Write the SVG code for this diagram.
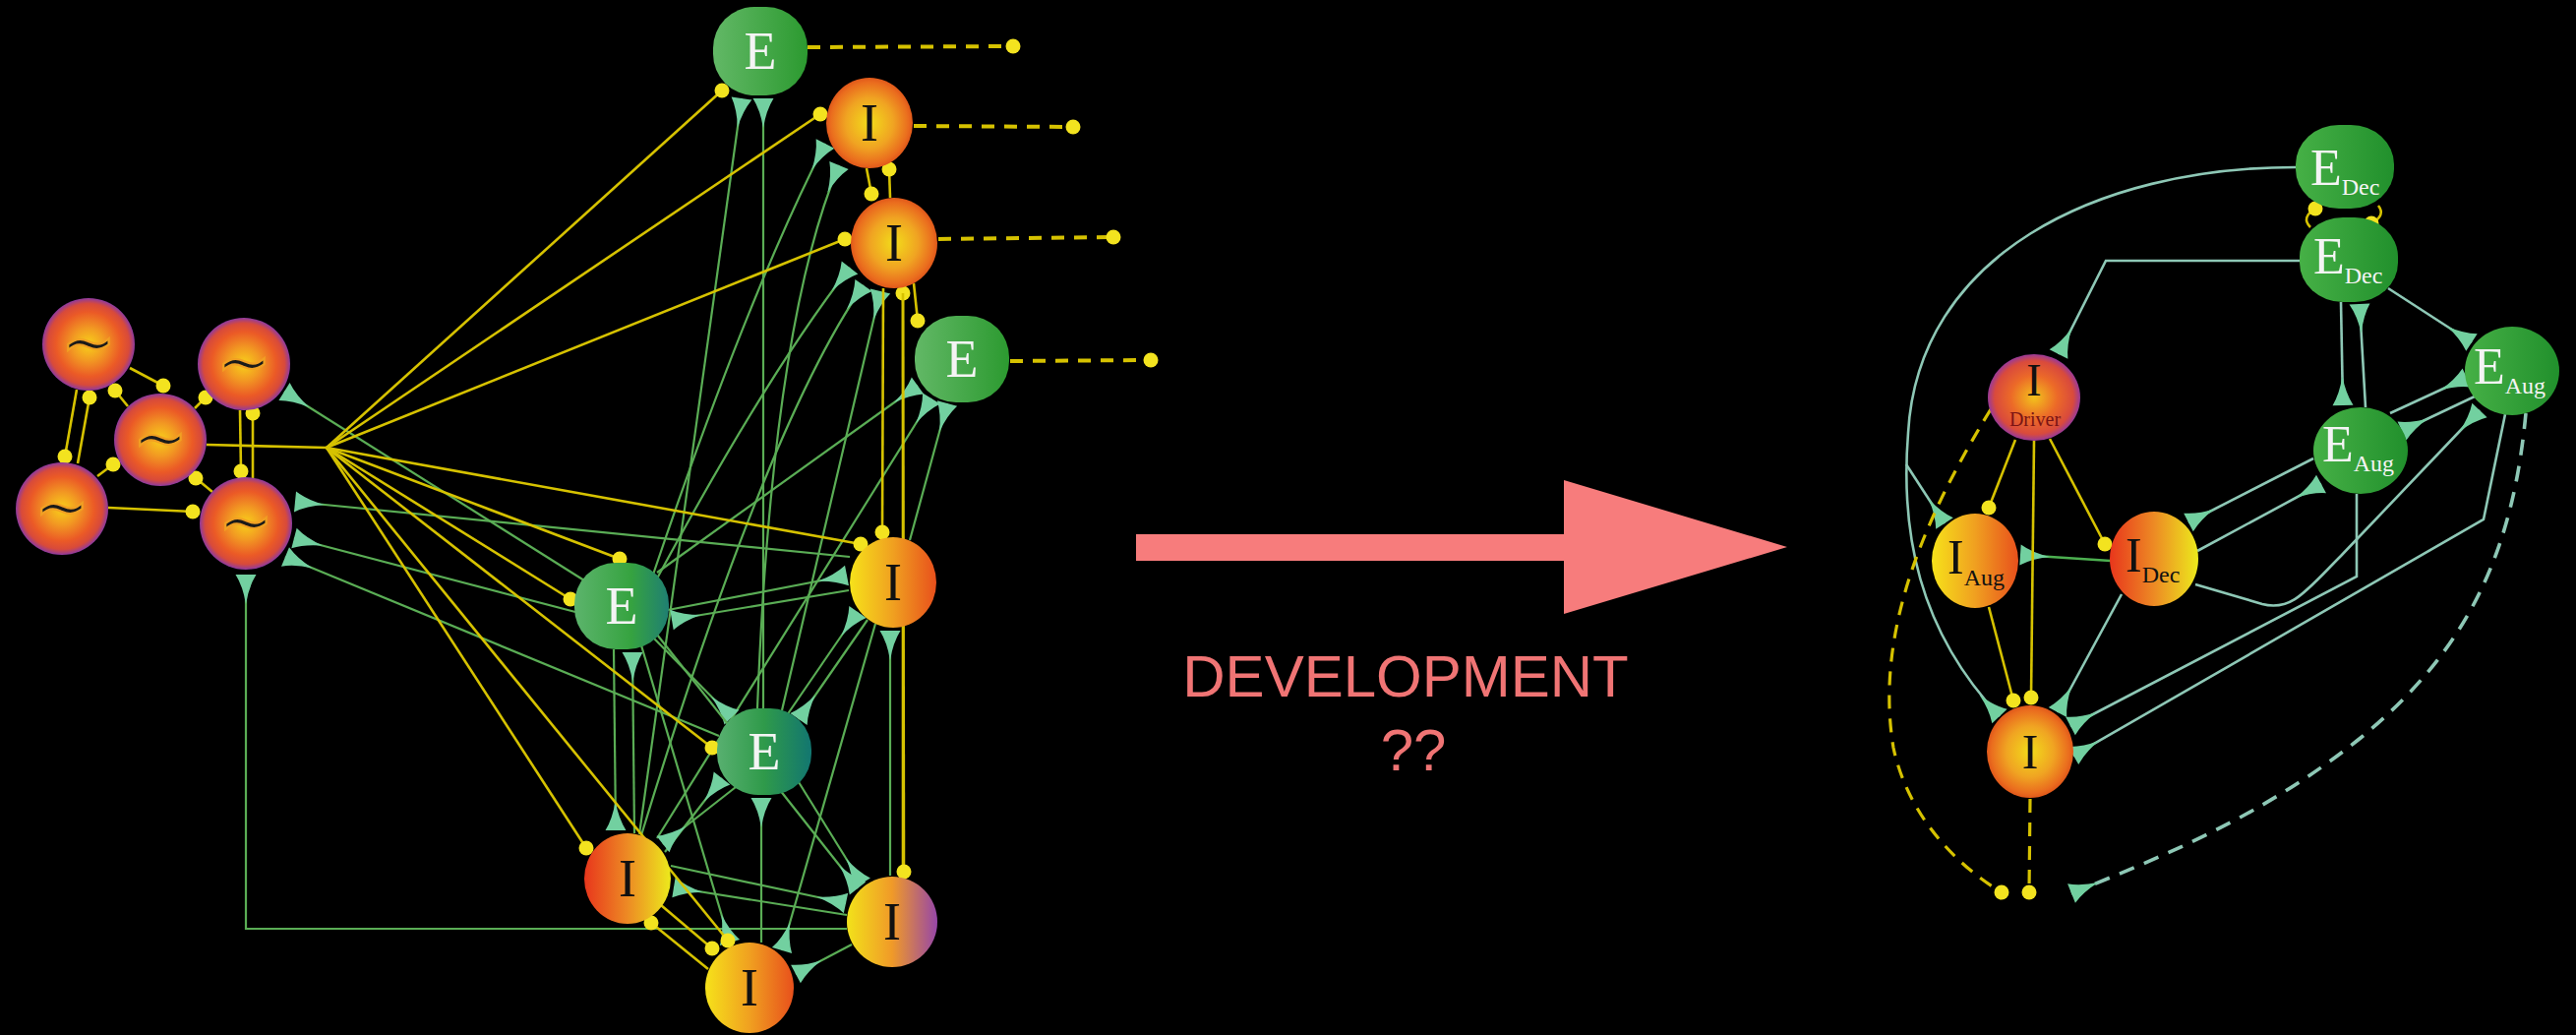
<svg xmlns="http://www.w3.org/2000/svg" width="2619" height="1052" viewBox="0 0 2619 1052">
<style>
.g{fill:none;stroke:#5aad55;stroke-width:2.2;marker-end:url(#fl)}
.y{fill:none;stroke:#d6c200;stroke-width:2.6;marker-end:url(#dot)}
.yp{fill:none;stroke:#d6c200;stroke-width:2.6}
.yd{fill:none;stroke:#d6c200;stroke-width:4;stroke-dasharray:13 10;marker-end:url(#dot)}
.t{fill:none;stroke:#8ec8b6;stroke-width:2.6;marker-end:url(#fl)}
.tg{fill:none;stroke:#4caf50;stroke-width:2.6;marker-end:url(#fl)}
.td{fill:none;stroke:#8ec8b6;stroke-width:3.6;stroke-dasharray:16 11;marker-end:url(#fl)}
.ydr{fill:none;stroke:#d6c200;stroke-width:3.2;stroke-dasharray:14 10;marker-end:url(#dot)}
.le{font-family:"Liberation Serif","Times New Roman",serif;font-size:54px;fill:#f4f4f4;text-anchor:middle}
.li{font-family:"Liberation Serif","Times New Roman",serif;font-size:54px;fill:#111;text-anchor:middle}
.tl{font-family:"DejaVu Sans",sans-serif;font-size:66px;fill:#1a1a1a;stroke:#f1a023;stroke-width:2.2;text-anchor:middle}
.re{font-family:"Liberation Serif","Times New Roman",serif;font-size:52px;fill:#f4f4f4}
.ri{font-family:"Liberation Serif","Times New Roman",serif;font-size:50px;fill:#111}
.sub{font-size:24px}
.dev{font-family:"Liberation Sans",Arial,sans-serif;font-size:60px;fill:#f07474;text-anchor:middle}
</style>
<defs>
<marker id="fl" viewBox="-31 -12 32 24" refX="0" refY="0" markerWidth="32" markerHeight="24" orient="auto" markerUnits="userSpaceOnUse">
<path d="M-30,0 Q-12,-3 0,-10.5 L0,10.5 Q-12,3 -30,0 Z" fill="#72d0a0"/>
</marker>
<marker id="dot" viewBox="-9 -9 18 18" refX="0" refY="0" markerWidth="18" markerHeight="18" markerUnits="userSpaceOnUse">
<circle r="7.5" fill="#f3e31f"/>
</marker>
<radialGradient id="gOsc" cx="0.5" cy="0.5" r="0.5">
<stop offset="0" stop-color="#f8d01a"/><stop offset="0.35" stop-color="#f29a22"/><stop offset="0.7" stop-color="#eb5a26"/><stop offset="0.88" stop-color="#d84a3a"/><stop offset="1" stop-color="#8e3aa0"/>
</radialGradient>
<linearGradient id="gE" x1="0" y1="0" x2="1" y2="0"><stop offset="0" stop-color="#62b866"/><stop offset="1" stop-color="#2c9a30"/></linearGradient>
<linearGradient id="gET" x1="0" y1="0" x2="1" y2="0"><stop offset="0" stop-color="#5cb46c"/><stop offset="0.6" stop-color="#36a340"/><stop offset="1" stop-color="#1f7f72"/></linearGradient>
<linearGradient id="gET2" x1="0" y1="0" x2="1" y2="0"><stop offset="0" stop-color="#58b070"/><stop offset="0.5" stop-color="#2f9a4a"/><stop offset="1" stop-color="#127670"/></linearGradient>
<radialGradient id="gIr" cx="0.5" cy="0.5" r="0.5"><stop offset="0" stop-color="#f2dc1a"/><stop offset="0.55" stop-color="#f0a422"/><stop offset="0.9" stop-color="#ea6c1e"/><stop offset="1" stop-color="#e0581a"/></radialGradient>
<linearGradient id="gIyr" x1="0" y1="0" x2="1" y2="0"><stop offset="0" stop-color="#f6e21a"/><stop offset="0.5" stop-color="#f0a020"/><stop offset="1" stop-color="#e8501c"/></linearGradient>
<linearGradient id="gIry" x1="0" y1="0" x2="1" y2="0"><stop offset="0" stop-color="#e8361c"/><stop offset="0.5" stop-color="#ed8a24"/><stop offset="1" stop-color="#ecea1c"/></linearGradient>
<linearGradient id="gIyp" x1="0" y1="0" x2="1" y2="0"><stop offset="0" stop-color="#f2e21a"/><stop offset="0.5" stop-color="#f09a28"/><stop offset="1" stop-color="#9646a8"/></linearGradient>
<linearGradient id="gRE" x1="0" y1="0" x2="1" y2="0"><stop offset="0" stop-color="#46b046"/><stop offset="1" stop-color="#21902c"/></linearGradient>
<radialGradient id="gDrv" cx="0.5" cy="0.5" r="0.5"><stop offset="0" stop-color="#f3c21c"/><stop offset="0.5" stop-color="#ec6a28"/><stop offset="0.85" stop-color="#d94a3c"/><stop offset="1" stop-color="#9a3a98"/></radialGradient>
</defs>
<rect x="0" y="0" width="2619" height="1052" fill="#000"/>

<g id="connectors">
<!-- left green -->
<path class="g" d="M594,590 L289,398"/>
<path class="g" d="M864,566 L300,510"/>
<path class="g" d="M585,622 L299,547"/>
<path class="g" d="M731,748 L290,566"/>
<path class="g" d="M861,944 L250,944 L250,584"/>
<path class="g" d="M650,848 L754,100"/>
<path class="g" d="M776,720 L776,100"/>
<path class="g" d="M664,584 Q760,300 839,146"/>
<path class="g" d="M770,720 Q785,330 853,168"/>
<path class="g" d="M668,588 Q780,380 864,272"/>
<path class="g" d="M652,849 Q780,430 878,290"/>
<path class="g" d="M795,722 L895,296"/>
<path class="g" d="M668,582 L933,392"/>
<path class="g" d="M668,852 L947,405"/>
<path class="g" d="M925,549 L963,410"/>
<path class="g" d="M679,620 L861,585"/>
<path class="g" d="M800,727 L872,622"/>
<path class="g" d="M905,890 L905,641"/>
<path class="g" d="M863,600 L683,630"/>
<path class="g" d="M645,847 L643,663"/>
<path class="g" d="M624,660 L626,844"/>
<path class="g" d="M664,648 L744,729"/>
<path class="g" d="M882,630 L812,731"/>
<path class="g" d="M676,866 L734,791"/>
<path class="g" d="M774,958 L774,811"/>
<path class="g" d="M748,800 L674,858"/>
<path class="g" d="M861,930 L685,902"/>
<path class="g" d="M682,880 L860,918"/>
<path class="g" d="M668,645 L872,903"/>
<path class="g" d="M812,795 L876,898"/>
<path class="g" d="M652,656 L742,958"/>
<path class="g" d="M890,634 L795,966"/>
<path class="g" d="M866,960 L809,990"/>
<!-- left yellow -->
<path class="yp" d="M210,452 L332,455"/>
<path class="y" d="M332,455 L734,92"/>
<path class="y" d="M332,455 L834,116"/>
<path class="y" d="M332,455 L859,243"/>
<path class="y" d="M332,455 L875,553"/>
<path class="y" d="M332,455 L630,568"/>
<path class="y" d="M332,455 L580,609"/>
<path class="y" d="M332,455 L724,760"/>
<path class="y" d="M332,455 L596,862"/>
<path class="y" d="M332,455 L740,956"/>
<path class="y" d="M672,920 L724,964"/>
<path class="y" d="M720,985 L662,938"/>
<path class="y" d="M881,171 L886,197"/>
<path class="y" d="M905,201 L904,172"/>
<path class="y" d="M898,293 L897,541"/>
<path class="y" d="M918,890 L918,298"/>
<path class="y" d="M918,298 L919,886"/>
<path class="y" d="M929,288 L933,326"/>
<path class="y" d="M78,396 L66,464"/>
<path class="y" d="M79,471 L91,404"/>
<path class="y" d="M132,374 L166,392"/>
<path class="y" d="M130,413 L117,397"/>
<path class="y" d="M198,415 L209,404"/>
<path class="y" d="M257,486 L257,420"/>
<path class="y" d="M244,417 L245,479"/>
<path class="y" d="M99,484 L115,472"/>
<path class="y" d="M216,500 L199,486"/>
<path class="y" d="M110,516 L196,520"/>
<path class="yd" d="M821,48 L1030,47"/>
<path class="yd" d="M929,128 L1091,129"/>
<path class="yd" d="M954,243 L1132,241"/>
<path class="yd" d="M1027,367 L1170,366"/>
<!-- right teal -->
<path class="t" d="M2334,170 C2130,170 1950,260 1940,440 C1932,540 1950,640 2033,728"/>
<path class="t" d="M1938,472 L1977,532"/>
<path class="t" d="M2338,265 L2141,265 L2093,360"/>
<path class="t" d="M2380,307 L2382,412"/>
<path class="t" d="M2405,414 L2399,309"/>
<path class="t" d="M2428,293 L2513,348"/>
<path class="t" d="M2430,420 L2508,384"/>
<path class="t" d="M2518,402 L2442,438"/>
<path class="t" d="M2352,466 L2225,531"/>
<path class="t" d="M2234,560 L2360,492"/>
<path class="t" d="M2232,594 L2300,614 C2330,622 2345,600 2380,565 L2521,417"/>
<path class="t" d="M2396,502 L2396,586 L2105,738"/>
<path class="t" d="M2547,421 L2525,528 L2108,768"/>
<path class="t" d="M2157,604 L2092,724"/>
<path class="tg" d="M2146,570 L2054,564"/>
<path class="td" d="M2568,420 C2555,560 2510,660 2400,750 C2300,830 2200,870 2106,908"/>
<!-- right yellow -->
<path class="y" d="M2049,447 L2022,516"/>
<path class="y" d="M2084,446 L2140,553"/>
<path class="y" d="M2068,448 L2065,709"/>
<path class="y" d="M2022,617 L2047,712"/>
<path class="y" d="M2349,231 Q2339,221 2354,212"/>
<path class="y" d="M2418,209 Q2426,219 2411,227"/>
<path class="ydr" d="M2024,416 C1960,520 1905,640 1925,760 C1940,830 1990,880 2035,907"/>
<path class="ydr" d="M2064,812 L2063,907"/>
</g>

<g id="osc-a"><circle cx="90" cy="350" r="47" fill="url(#gOsc)"/><text class="tl" x="90" y="371">~</text></g>
<g id="osc-b"><circle cx="248" cy="370" r="47" fill="url(#gOsc)"/><text class="tl" x="248" y="391">~</text></g>
<g id="osc-c"><circle cx="163" cy="447" r="47" fill="url(#gOsc)"/><text class="tl" x="163" y="468">~</text></g>
<g id="osc-d"><circle cx="63" cy="517" r="47" fill="url(#gOsc)"/><text class="tl" x="63" y="538">~</text></g>
<g id="osc-e"><circle cx="250" cy="532" r="47" fill="url(#gOsc)"/><text class="tl" x="250" y="553">~</text></g>

<g id="e1"><rect x="725" y="7" width="96" height="90" rx="42" fill="url(#gE)"/><text class="le" x="773" y="70">E</text></g>
<g id="i1"><ellipse cx="884" cy="125" rx="44" ry="46" fill="url(#gIr)"/><text class="li" x="884" y="143">I</text></g>
<g id="i2"><ellipse cx="909" cy="247" rx="44" ry="46" fill="url(#gIr)"/><text class="li" x="909" y="265">I</text></g>
<g id="e2"><rect x="930" y="321" width="96" height="88" rx="42" fill="url(#gE)"/><text class="le" x="978" y="383">E</text></g>
<g id="i3"><ellipse cx="908" cy="592" rx="44" ry="46" fill="url(#gIyr)"/><text class="li" x="908" y="610">I</text></g>
<g id="e5"><rect x="584" y="572" width="96" height="88" rx="42" fill="url(#gET)"/><text class="le" x="632" y="634">E</text></g>
<g id="e6"><rect x="729" y="720" width="96" height="88" rx="42" fill="url(#gET2)"/><text class="le" x="777" y="782">E</text></g>
<g id="i7"><ellipse cx="638" cy="893" rx="44" ry="46" fill="url(#gIry)"/><text class="li" x="638" y="911">I</text></g>
<g id="i8"><ellipse cx="907" cy="937" rx="46" ry="46" fill="url(#gIyp)"/><text class="li" x="907" y="955">I</text></g>
<g id="i9"><ellipse cx="762" cy="1004" rx="45" ry="46" fill="url(#gIyr)"/><text class="li" x="762" y="1022">I</text></g>

<g id="development-arrow">
<polygon points="1155,543 1590,543 1590,488 1817,556 1590,624 1590,570 1155,570" fill="#f77c7c"/>
<text class="dev" x="1429" y="708">DEVELOPMENT</text>
<text class="dev" x="1437" y="783">??</text>
</g>

<g id="e-dec-1"><rect x="2334" y="127" width="100" height="85" rx="44" ry="40" fill="url(#gRE)"/><text class="re" x="2349" y="188">E<tspan class="sub" dy="10">Dec</tspan></text></g>
<g id="e-dec-2"><rect x="2338" y="221" width="100" height="86" rx="44" ry="40" fill="url(#gRE)"/><text class="re" x="2352" y="278">E<tspan class="sub" dy="10">Dec</tspan></text></g>
<g id="e-aug-1"><ellipse cx="2554" cy="377" rx="48" ry="45" fill="url(#gRE)"/><text class="re" x="2515" y="390">E<tspan class="sub" dy="10">Aug</tspan></text></g>
<g id="e-aug-2"><ellipse cx="2400" cy="458" rx="48" ry="44" fill="url(#gRE)"/><text class="re" x="2361" y="469">E<tspan class="sub" dy="10">Aug</tspan></text></g>
<g id="i-driver"><ellipse cx="2068" cy="404" rx="47" ry="44" fill="url(#gDrv)"/><text x="2068" y="402" text-anchor="middle" font-family="Liberation Serif, serif" font-size="46" fill="#111">I</text><text x="2069" y="433" text-anchor="middle" font-family="Liberation Serif, serif" font-size="20" fill="#7a1414">Driver</text></g>
<g id="i-aug"><ellipse cx="2008" cy="570" rx="44" ry="48" fill="url(#gIyr)"/><text class="ri" x="1980" y="583">I<tspan class="sub" dy="12">Aug</tspan></text></g>
<g id="i-dec"><ellipse cx="2190" cy="568" rx="45" ry="48" fill="url(#gIry)"/><text class="ri" x="2161" y="581">I<tspan class="sub" dy="11">Dec</tspan></text></g>
<g id="i-out"><ellipse cx="2064" cy="764" rx="44" ry="47" fill="url(#gIr)"/><text class="ri" x="2064" y="781" text-anchor="middle">I</text></g>
</svg>
